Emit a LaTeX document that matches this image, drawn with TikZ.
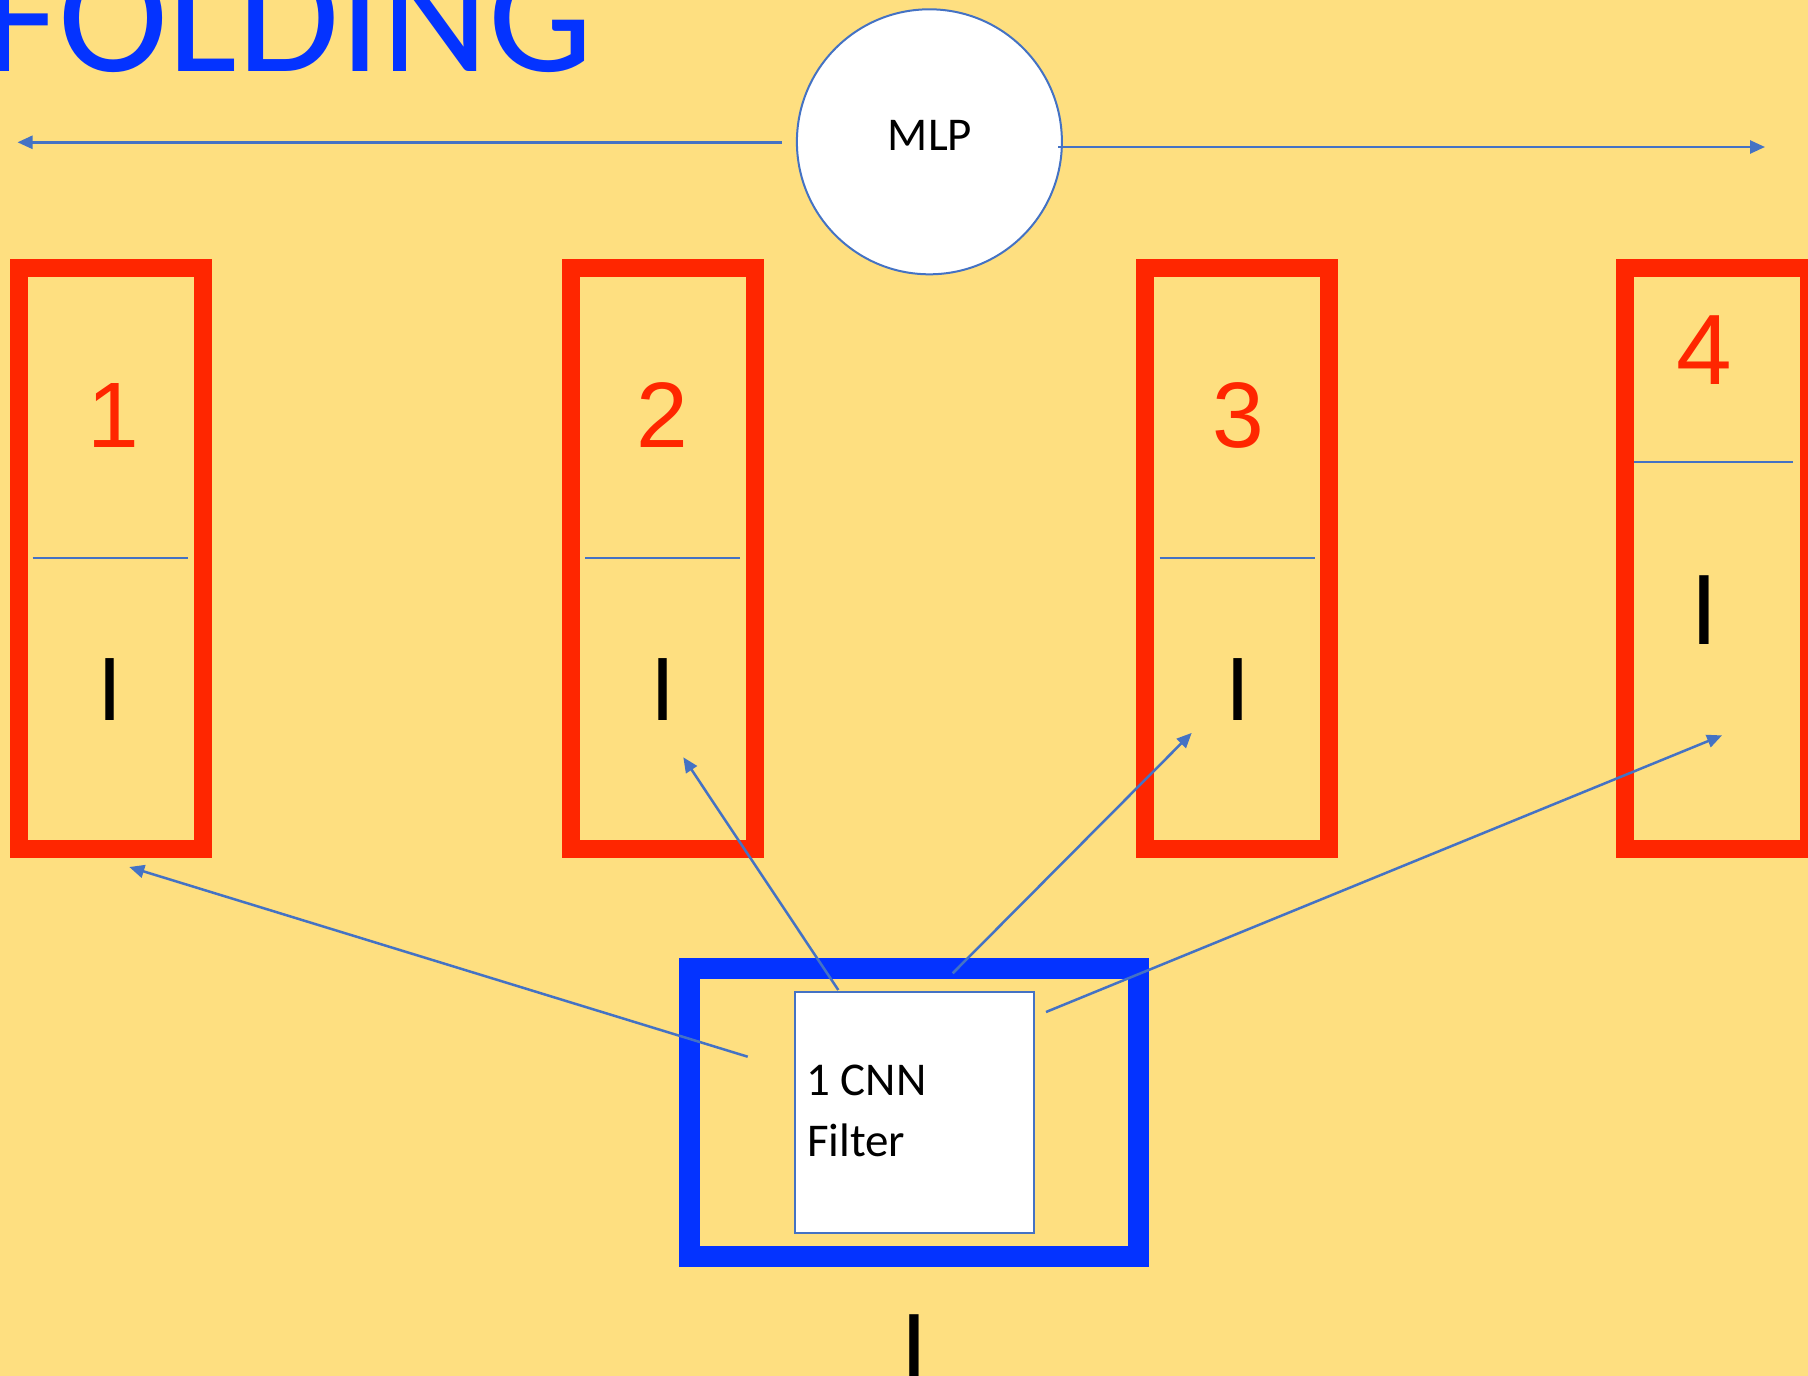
\documentclass[tikz,border=0pt]{standalone}
\usepackage{fontspec}
\setmainfont{Carlito}
\newfontfamily\arialf{Liberation Sans}
\usetikzlibrary{arrows.meta}
\definecolor{bgyellow}{HTML}{FEDF80}
\definecolor{redb}{HTML}{FF2600}
\definecolor{blueb}{HTML}{0433FF}
\definecolor{connblue}{HTML}{4472C4}
\begin{document}
\begin{tikzpicture}[x=1pt,y=-1pt,
  redbox/.style={rectangle, draw=redb, line width=18pt, minimum width=184pt, minimum height=581pt, inner sep=0pt},
  divider/.style={draw=connblue, line width=2pt},
  connarrow/.style={draw=connblue, line width=2.5pt, -{Triangle[length=15pt,width=13pt]}},
  numlbl/.style={text=redb, font=\arialf\fontsize{93}{93}\selectfont, anchor=base, inner sep=0pt},
  ilbl/.style={text=black, font=\arialf\fontsize{90}{90}\selectfont, anchor=base, inner sep=0pt},
  txt/.style={font=\fontsize{47}{47}\selectfont, inner sep=0pt}
]
\fill[bgyellow] (0,0) rectangle (1808,1376);
\useasboundingbox (0,0) rectangle (1808,1376);

% title
\node[anchor=base west, inner sep=0pt, text=blueb, font=\fontsize{166}{166}\selectfont] (title) at (-17,71) {FOLDING};

% MLP circle
\node[circle, draw=connblue, line width=2pt, fill=white, minimum size=265pt, inner sep=0pt] (mlp) at (929.4,141.8) {};
\node[txt, anchor=base] (mlptxt) at (930,150) {MLP};
\coordinate (mlpL) at (782,142.3);
\coordinate (mlpLend) at (17.5,142.3);
\coordinate (mlpR) at (1058,147);
\coordinate (mlpRend) at (1765,147);

% red boxes
\node[redbox] (box1) at (110.5,558.5) {};
\node[redbox] (box2) at (662.5,558.5) {};
\node[redbox] (box3) at (1237.3,558.5) {};
\node[redbox] (box4) at (1717,558.5) {};

\draw[divider] (32.7,558.2) -- (188,558.2);
\draw[divider] (585,558.2) -- (740,558.2);
\draw[divider] (1159.7,558.2) -- (1315,558.2);
\draw[divider] (1634,462.2) -- (1793,462.2);

\node[numlbl] (n1) at (113,447) {1};
\node[numlbl] (n2) at (662.8,447.5) {2};
\node[numlbl] (n3) at (1238,447.5) {3};
\node[numlbl, font=\arialf\fontsize{100}{100}\selectfont] (n4) at (1704.7,384.6) {4};

\node[ilbl] (i1) at (110.5,720.6) {I};
\node[ilbl] (i2) at (662.7,720.6) {I};
\node[ilbl] (i3) at (1237.5,720.6) {I};
\node[ilbl, font=\arialf\fontsize{100}{100}\selectfont] (i4) at (1704,644) {I};

% CNN block
\node[rectangle, draw=blueb, line width=21pt, minimum width=448.7pt, minimum height=287.5pt, inner sep=0pt] (cnnouter) at (914.2,1112.5) {};
\node[rectangle, draw=connblue, fill=white, line width=2pt, minimum width=239pt, minimum height=240.4pt, inner sep=0pt] (filter) at (914.2,1112.5) {};
\node[txt, anchor=base west] (cnn1) at (806,1095) {1 CNN};
\node[txt, anchor=base west] (cnn2) at (807,1156) {Filter};

\node[ilbl, font=\arialf\fontsize{100}{100}\selectfont] (ibot) at (914.6,1383) {I};

% connector ends
\coordinate (s1) at (747.7,1056.7);
\coordinate (t1) at (129.3,867);
\coordinate (s2) at (838.3,990);
\coordinate (t2) at (683.3,757.3);
\coordinate (s3) at (952.7,973.3);
\coordinate (t3) at (1191.7,732.9);
\coordinate (s4) at (1046,1012);
\coordinate (t4) at (1722,735.4);

\draw[connarrow] (mlpL) -- (mlpLend);
\draw[connarrow] (mlpR) -- (mlpRend);
\draw[connarrow] (s1) -- (t1);
\draw[connarrow] (s2) -- (t2);
\draw[connarrow] (s3) -- (t3);
\draw[connarrow] (s4) -- (t4);
\end{tikzpicture}
\end{document}
